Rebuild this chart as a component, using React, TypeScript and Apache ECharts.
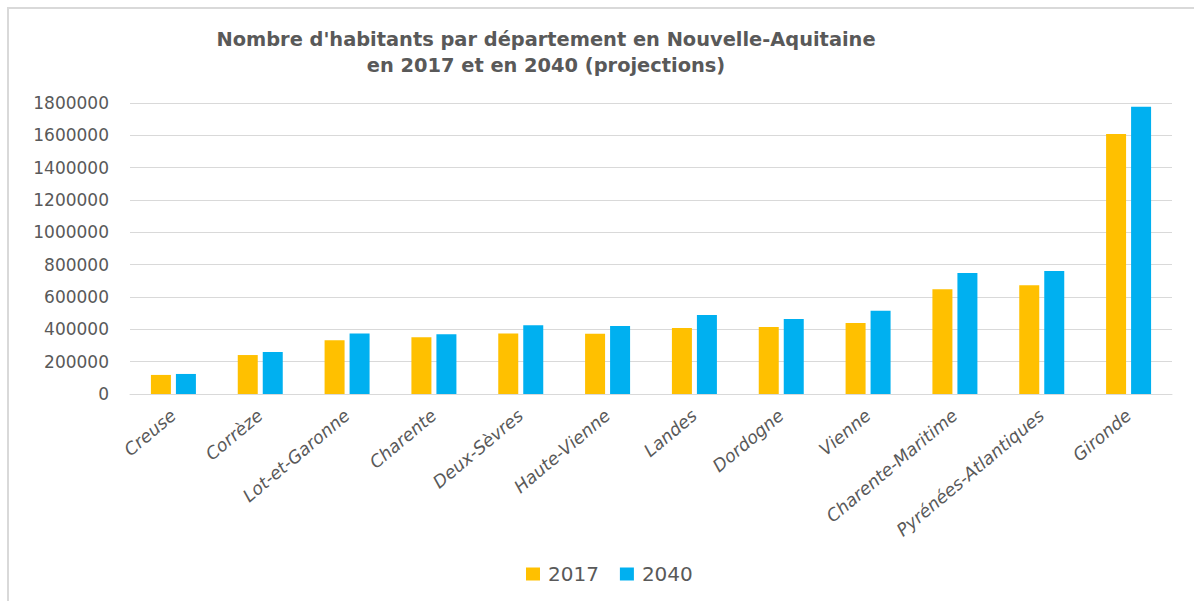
import React, { useEffect, useRef } from "react";
import * as echarts from "echarts";

const categories = [
  "Creuse",
  "Corrèze",
  "Lot-et-Garonne",
  "Charente",
  "Deux-Sèvres",
  "Haute-Vienne",
  "Landes",
  "Dordogne",
  "Vienne",
  "Charente-Maritime",
  "Pyrénées-Atlantiques",
  "Gironde",
];
const values2017 = [118000, 241000, 332000, 351000, 375000, 372000, 408000, 414000, 439000, 648000, 672000, 1608000];
const values2040 = [124000, 260000, 375000, 369000, 425000, 421000, 489000, 464000, 515000, 748000, 761000, 1777000];
const seriesNames = ["2017", "2040"];
const titleLines = [
  "Nombre d'habitants par département en Nouvelle-Aquitaine",
  "en 2017 et en 2040 (projections)",
];

export default function App() {
  const ref = useRef<HTMLDivElement>(null);
  useEffect(() => {
    if (!ref.current) return;
    const chart = echarts.init(ref.current, null, { renderer: "svg" });
    const textColor = "#595959";
    chart.setOption({
      animation: false,
      backgroundColor: "#ffffff",
      title: {
        text: titleLines.join("\n"),
        left: 541,
        top: 21,
        textAlign: "center",
        textStyle: {
          fontFamily: "DejaVu Sans",
          fontWeight: "bold",
          fontSize: 19.4,
          lineHeight: 26,
          color: textColor,
        },
      },
      graphic: [
        {
          type: "rect",
          shape: { x: 8, y: 8, width: 1400, height: 900 },
          style: { fill: "none", stroke: "#d9d9d9", lineWidth: 2 },
          silent: true,
        },
      ],
      legend: {
        data: seriesNames,
        left: 521,
        top: 559,
        itemWidth: 14,
        itemHeight: 13,
        itemGap: 21,
        icon: "rect",
        textStyle: {
          fontFamily: "DejaVu Sans",
          fontSize: 20,
          color: textColor,
          padding: [0, 0, 0, 3],
        },
      },
      grid: { left: 130, right: 22, top: 103, bottom: 207, containLabel: false },
      xAxis: {
        type: "category",
        data: categories,
        axisLine: { lineStyle: { color: "#d9d9d9", width: 1 } },
        axisTick: { show: false },
        axisLabel: {
          rotate: 40,
          margin: 19,
          interval: 0,
          fontFamily: "DejaVu Sans",
          fontStyle: "italic",
          fontSize: 17.5,
          color: textColor,
        },
      },
      yAxis: {
        type: "value",
        min: 0,
        max: 1800000,
        interval: 200000,
        axisLine: { show: false },
        axisTick: { show: false },
        splitLine: { lineStyle: { color: "#d9d9d9", width: 1 } },
        axisLabel: {
          margin: 21,
          fontFamily: "DejaVu Sans",
          fontSize: 17,
          color: textColor,
          formatter: (v: number) => String(v),
        },
      },
      series: [
        {
          name: seriesNames[0],
          type: "bar",
          data: values2017,
          barWidth: 20,
          barGap: "25%",
          itemStyle: { color: "#FFC000" },
        },
        {
          name: seriesNames[1],
          type: "bar",
          data: values2040,
          barWidth: 20,
          barGap: "25%",
          itemStyle: { color: "#00B0F0" },
        },
      ],
    });
    return () => chart.dispose();
  }, []);
  return (
    <div
      ref={ref}
      style={{ position: "fixed", left: 0, top: 0, width: 1194, height: 601 }}
    />
  );
}
